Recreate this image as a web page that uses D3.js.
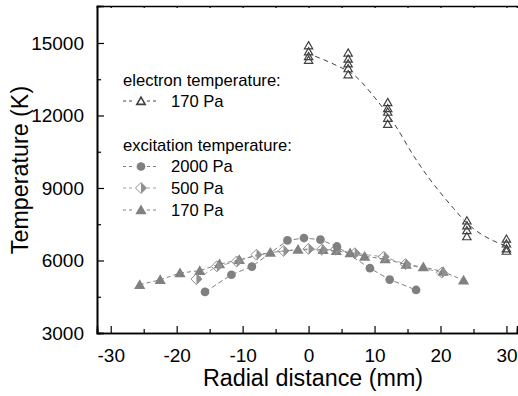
<!DOCTYPE html>
<html>
<head>
<meta charset="utf-8">
<script src="https://cdn.jsdelivr.net/npm/d3@7"></script>
<style>
  body { margin: 0; background: #fff; }
  svg text { font-family: "Liberation Sans", Arial, sans-serif; }
</style>
</head>
<body>
<svg width="518" height="396"></svg>
<script>
// electron temperature, 170 Pa (open triangles)
const elecX = [0, 0, 0, 0, 6, 6, 6, 6, 6, 12, 12, 12, 12, 12, 24, 24, 24, 24, 30, 30, 30, 30]
const elecT = [14900, 14650, 14450, 14300, 14600, 14350, 14150, 13950, 13700,
  12550, 12300, 12150, 11900, 11650, 7650, 7450, 7250, 7000, 6900, 6700, 6500, 6400]

// dashed fit through the electron temperatures
const fitX = [1, 4, 7, 10, 13, 16, 18, 20, 22, 24, 26, 28, 30]
const fitT = [14450, 14100, 13650, 12750, 11650, 10300, 9500, 8800, 8150, 7550, 7120, 6820, 6590]

// excitation temperature
const ex2000X = [-15.7, -11.7, -8.6, -3.2, -0.7, 1.8, 4.3, 9.3, 12.3, 16.3]
const ex2000T = [4700, 5410, 5750, 6830, 6930, 6860, 6580, 5680, 5210, 4780]

const ex500X = [-17, -13.9, -10.9, -7.9, -3.8, 0, 2, 4.1, 7, 11.4, 14.7, 20.2]
const ex500T = [5230, 5760, 5960, 6240, 6400, 6480, 6450, 6450, 6300, 6150, 5850, 5500]

const ex170X = [-25.6, -22.5, -19.5, -16.5, -13.5, -10.5, -5.8, -1.6, 2.2, 4.2, 6.3, 8.5, 11.6, 14.8, 17.4, 20.4, 23.5]
const ex170T = [5000, 5200, 5480, 5580, 5850, 6030, 6330, 6450, 6440, 6400, 6310, 6170, 6060, 5830, 5730, 5540, 5180]

const xTicks = [-30, -20, -10, 0, 10, 20, 30]
const yTicks = [3000, 6000, 9000, 12000, 15000]

const svg = d3.select("svg")
const width = 518
const height = 396

const margin = { top: 6, bottom: 63, left: 97, right: 0 }
const innerWidth = 420
const innerHeight = height - margin.top - margin.bottom

const grey = "#808080"
const dark = "#404040"

const xScale = d3.scaleLinear().domain([-32.08, 31.6]).range([0, innerWidth])
const yScale = d3.scaleLinear().domain([3000, 16530]).range([innerHeight, 0])

const g = svg.append("g")
  .attr("transform", `translate(${margin.left},${margin.top})`)

// axes: ticks point inwards
const xAxis = d3.axisBottom(xScale).tickValues(xTicks).tickSize(-7).tickPadding(16).tickFormat(d => d)
const xMinor = d3.axisBottom(xScale).tickValues([-25, -15, -5, 5, 15, 25]).tickSize(-4)
const yAxis = d3.axisLeft(yScale).tickValues(yTicks).tickSize(-7).tickPadding(13).tickFormat(d => d)
const yMinor = d3.axisLeft(yScale).tickValues([4500, 7500, 10500, 13500]).tickSize(-4)
const xTop = d3.axisTop(xScale).tickValues(d3.range(-30, 31, 5)).tickSize(-2)

const xAxisG = g.append("g").attr("transform", `translate(0,${innerHeight})`).call(xAxis)
g.append("g").attr("class", "minor").attr("transform", `translate(0,${innerHeight})`).call(xMinor)
const yAxisG = g.append("g").call(yAxis)
g.append("g").attr("class", "minor").call(yMinor)
g.append("g").attr("class", "minor").call(xTop)
g.selectAll(".minor text").remove()

g.selectAll(".domain").attr("stroke", "#000").attr("stroke-width", 1.6)
g.selectAll(".tick line").attr("stroke", "#000").attr("stroke-width", 1.2)
xAxisG.selectAll("text").attr("font-size", 19).attr("fill", "#000")
yAxisG.selectAll("text").attr("font-size", 19).attr("fill", "#000").attr("dy", "0.34em")

// axis titles
svg.append("text")
  .attr("x", 313).attr("y", 386)
  .attr("text-anchor", "middle")
  .attr("font-size", 23.3)
  .text("Radial distance (mm)")

svg.append("text")
  .attr("transform", "translate(28,170) rotate(-90)")
  .attr("text-anchor", "middle")
  .attr("font-size", 23.3)
  .text("Temperature (K)")

// symbols
const tri = d3.symbol().type(d3.symbolTriangle)
const circ = d3.symbol().type(d3.symbolCircle)

function diamond(sel, size, stroke) {
  // half-filled diamond: left open, right filled
  const s = size
  sel.append("path").attr("d", `M0,${-s}L${s},0L0,${s}Z`).attr("fill", stroke)
  sel.append("path").attr("d", `M0,${-s}L${s},0L0,${s}L${-s},0Z`)
    .attr("fill", "none").attr("stroke", stroke).attr("stroke-width", 1)
}

function line(xs, ts, color, dash) {
  const pts = xs.map((x, i) => [x, ts[i]])
  g.append("path")
    .datum(pts)
    .attr("fill", "none")
    .attr("stroke", color)
    .attr("stroke-width", 1)
    .attr("stroke-dasharray", dash)
    .attr("d", d3.line().x(d => xScale(d[0])).y(d => yScale(d[1])))
}

// excitation lines
line(ex2000X, ex2000T, grey, "5,3")
line(ex500X, ex500T, "#a0a0a0", "5,3")
line(ex170X, ex170T, grey, "4,3")

// electron fit
const fitPts = fitX.map((x, i) => [x, fitT[i]])
g.append("path")
  .datum(fitPts)
  .attr("fill", "none")
  .attr("stroke", dark)
  .attr("stroke-width", 1)
  .attr("stroke-dasharray", "5,4")
  .attr("d", d3.line().x(d => xScale(d[0])).y(d => yScale(d[1])).curve(d3.curveMonotoneX))

// markers
g.append("g").selectAll("path")
  .data(ex170X.map((x, i) => [x, ex170T[i]]))
  .enter().append("path")
  .attr("d", tri.size(55))
  .attr("transform", d => `translate(${xScale(d[0])},${yScale(d[1]) + 1})`)
  .attr("fill", grey)

g.append("g").selectAll("g")
  .data(ex500X.map((x, i) => [x, ex500T[i]]))
  .enter().append("g")
  .attr("transform", d => `translate(${xScale(d[0])},${yScale(d[1])})`)
  .each(function() { diamond(d3.select(this), 5.5, "#909090") })

g.append("g").selectAll("path")
  .data(ex2000X.map((x, i) => [x, ex2000T[i]]))
  .enter().append("path")
  .attr("d", circ.size(60))
  .attr("transform", d => `translate(${xScale(d[0])},${yScale(d[1])})`)
  .attr("fill", grey)

g.append("g").selectAll("path")
  .data(elecX.map((x, i) => [x, elecT[i]]))
  .enter().append("path")
  .attr("d", tri.size(30))
  .attr("transform", d => `translate(${xScale(d[0])},${yScale(d[1]) + 1})`)
  .attr("fill", "none")
  .attr("stroke", dark)
  .attr("stroke-width", 1.2)

// legend
const lg = svg.append("g")
const legendRows = [
  { y: 80, head: "electron temperature:" },
  { y: 101, label: "170 Pa", sym: "open" },
  { y: 145, head: "excitation temperature:" },
  { y: 166.5, label: "2000 Pa", sym: "circle" },
  { y: 188, label: "500 Pa", sym: "diamond" },
  { y: 210, label: "170 Pa", sym: "tri" }
]
legendRows.forEach(r => {
  if (r.head) {
    lg.append("text").attr("x", 123).attr("y", r.y).attr("dy", "0.35em")
      .attr("font-size", 16.6).text(r.head)
    return
  }
  const color = r.sym === "open" ? dark : (r.sym === "diamond" ? "#a0a0a0" : grey)
  lg.append("line").attr("x1", 123).attr("x2", 158).attr("y1", r.y).attr("y2", r.y)
    .attr("stroke", color).attr("stroke-dasharray", "3,3")
  const m = lg.append("g").attr("transform", `translate(141,${r.y})`)
  m.append("rect").attr("x", -6).attr("y", -6).attr("width", 12).attr("height", 12).attr("fill", "#fff")
  if (r.sym === "open") {
    m.append("path").attr("d", tri.size(30)).attr("transform", "translate(0,1)")
      .attr("fill", "none").attr("stroke", dark).attr("stroke-width", 1.6)
  } else if (r.sym === "circle") {
    m.append("path").attr("d", circ.size(60)).attr("fill", grey)
  } else if (r.sym === "diamond") {
    diamond(m, 5.5, "#909090")
  } else {
    m.append("path").attr("d", tri.size(55)).attr("transform", "translate(0,1)").attr("fill", grey)
  }
  lg.append("text").attr("x", 171).attr("y", r.y).attr("dy", "0.35em")
    .attr("font-size", 16.6).text(r.label)
})
</script>
</body>
</html>
